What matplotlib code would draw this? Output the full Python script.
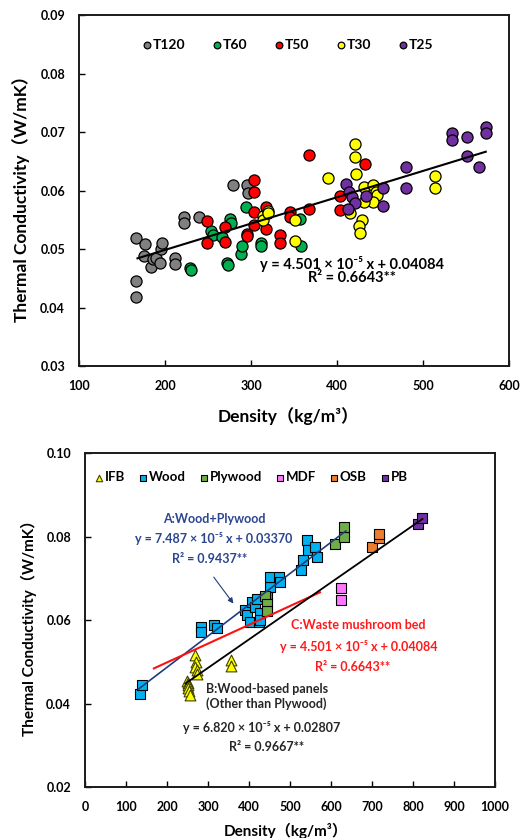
import numpy as np
import matplotlib
matplotlib.use("Agg")
import matplotlib.pyplot as plt

plt.rcParams['font.family'] = ['Lato', 'Noto Sans CJK SC', 'DejaVu Sans']
plt.rcParams['font.weight'] = 'bold'

# ---- top chart: waste mushroom bed, by group ----
t120_x = [166, 166, 166, 175, 177, 184, 186, 190, 194, 195, 197, 212, 212, 222, 222, 240, 279, 295, 296]
t120_y = [0.0519, 0.0445, 0.0418, 0.0488, 0.0508, 0.0469, 0.0483, 0.0485, 0.0476, 0.0500, 0.0510,
          0.0485, 0.0474, 0.0555, 0.0545, 0.0555, 0.0610, 0.0609, 0.0596]
t60_x = [229, 230, 253, 256, 266, 272, 273, 276, 277, 288, 289, 294, 312, 312, 357, 358]
t60_y = [0.0467, 0.0464, 0.0530, 0.0524, 0.0521, 0.0476, 0.0472, 0.0551, 0.0545, 0.0491, 0.0505,
         0.0572, 0.0510, 0.0505, 0.0552, 0.0505]
t50_x = [249, 249, 270, 270, 295, 295, 303, 303, 303, 303, 317, 317, 334, 334, 345, 345, 368, 368, 403, 403, 432]
t50_y = [0.0548, 0.0511, 0.0538, 0.0512, 0.0526, 0.0522, 0.0564, 0.0541, 0.0598, 0.0618, 0.0535,
         0.0572, 0.0524, 0.0511, 0.0564, 0.0555, 0.0568, 0.0661, 0.0591, 0.0567, 0.0645]
t30_x = [314, 314, 320, 320, 351, 351, 390, 421, 421, 422, 514, 514, 415, 429, 426, 427, 431, 442, 445, 446, 442, 431]
t30_y = [0.0556, 0.0549, 0.0565, 0.0561, 0.0550, 0.0513, 0.0622, 0.0679, 0.0658, 0.0629, 0.0625,
         0.0604, 0.0561, 0.0550, 0.0539, 0.0528, 0.0606, 0.0609, 0.0598, 0.0592, 0.0581, 0.0581]
t25_x = [411, 414, 418, 421, 413, 434, 454, 454, 480, 480, 534, 534, 551, 551, 565, 573, 573]
t25_y = [0.0611, 0.0598, 0.0589, 0.0579, 0.0568, 0.0591, 0.0604, 0.0574, 0.0641, 0.0604, 0.0699,
         0.0686, 0.0692, 0.0659, 0.0641, 0.0709, 0.0699]

groups = ["T120", "T60", "T50", "T30", "T25"]
group_colors = ["#808080", "#00B050", "#FF0000", "#FFFF00", "#7030A0"]

# fit for waste mushroom bed
c_slope, c_icpt, c_range = 4.501e-5, 0.04084, [168, 573]

# ---- bottom chart: wood and wood-based panels ----
ifb_x = [268, 270, 268, 272, 273, 248, 250, 252, 250, 253, 255, 356, 356]
ifb_y = [0.0515, 0.0500, 0.0488, 0.0480, 0.0470, 0.0455, 0.0450, 0.0444, 0.0438, 0.0430, 0.0420, 0.0505, 0.0490]
wood_x = [133, 138, 282, 282, 315, 322, 391, 395, 403, 407, 415, 420, 424, 428, 428, 444, 450, 452,
          472, 475, 527, 532, 542, 543, 562, 566]
wood_y = [0.0423, 0.0444, 0.0584, 0.0571, 0.0588, 0.0582, 0.0624, 0.0612, 0.0596, 0.0644, 0.0632,
          0.0650, 0.0596, 0.0616, 0.0600, 0.0656, 0.0680, 0.0704, 0.0704, 0.0692, 0.0720, 0.0744,
          0.0792, 0.0768, 0.0776, 0.0752]
plywood_x = [440, 444, 444, 609, 631, 632]
plywood_y = [0.0658, 0.0638, 0.0622, 0.0782, 0.0800, 0.0822]
mdf_x = [625, 625]
mdf_y = [0.0676, 0.0648]
osb_x = [701, 716, 716]
osb_y = [0.0776, 0.0797, 0.0806]
pb_x = [811, 821]
pb_y = [0.0830, 0.0845]

# fits
a_slope, a_icpt, a_range = 7.487e-5, 0.03370, [130, 636]
b_slope, b_icpt, b_range = 6.820e-5, 0.02807, [245, 823]

fig = plt.figure(figsize=(5.24, 8.38), dpi=100)
ax1 = fig.add_axes([79 / 524, 1 - 366 / 838, 430 / 524, 351 / 838])
ax2 = fig.add_axes([85 / 524, 1 - 787 / 838, 410 / 524, 334 / 838])

# top chart
for xs, ys, lab, col in zip([t120_x, t60_x, t50_x, t30_x, t25_x],
                            [t120_y, t60_y, t50_y, t30_y, t25_y], groups, group_colors):
    ax1.scatter(xs, ys, s=64, c=col, edgecolors='black', linewidths=0.9, label=lab, zorder=3)

xx = np.array(c_range)
ax1.plot(xx, c_slope * xx + c_icpt, color='black', lw=1.5, zorder=4)

ax1.set_xlim(100, 600)
ax1.set_ylim(0.03, 0.09)
ax1.set_xticks(np.arange(100, 601, 100))
ax1.set_yticks(np.arange(0.03, 0.0901, 0.01))
ax1.set_yticklabels(['%.2f' % v for v in np.arange(0.03, 0.0901, 0.01)])
ax1.set_xlabel('Density（kg/m³）', fontsize=12.5, fontweight='bold')
ax1.set_ylabel('Thermal Conductivity（W/mK）', fontsize=12.5, fontweight='bold')
ax1.xaxis.set_label_coords(0.486, -0.117)
ax1.yaxis.set_label_coords(-0.114, 0.49)

ax1.text(417, 0.04658, 'y = 4.501 × 10⁻⁵ x + 0.04084', fontsize=10.5, fontweight='bold',
         ha='center', va='baseline')
ax1.text(417, 0.04436, 'R² = 0.6643**', fontsize=10.5, fontweight='bold', ha='center', va='baseline')

leg1 = ax1.legend(loc='center left', bbox_to_anchor=(0.145, 0.9145), ncol=5, frameon=False,
                  prop={'size': 10, 'weight': 'bold'}, handlelength=0.8, handletextpad=0.0,
                  columnspacing=1.9, borderpad=0, borderaxespad=0, markerscale=0.6)

# bottom chart
ax2.scatter(ifb_x, ifb_y, s=60, marker='^', c='#FFFF00', edgecolors='#404000', linewidths=0.8, label='IFB', zorder=3)
ax2.scatter(wood_x, wood_y, s=56, marker='s', c='#00B0F0', edgecolors='black', linewidths=0.8, label='Wood', zorder=3)
ax2.scatter(plywood_x, plywood_y, s=56, marker='s', c='#70AD47', edgecolors='black', linewidths=0.8, label='Plywood', zorder=3)
ax2.scatter(mdf_x, mdf_y, s=56, marker='s', c='#FF77FF', edgecolors='black', linewidths=0.8, label='MDF', zorder=3)
ax2.scatter(osb_x, osb_y, s=56, marker='s', c='#ED7D31', edgecolors='black', linewidths=0.8, label='OSB', zorder=3)
ax2.scatter(pb_x, pb_y, s=56, marker='s', c='#7030A0', edgecolors='black', linewidths=0.8, label='PB', zorder=3)

xa = np.array(a_range)
ax2.plot(xa, a_slope * xa + a_icpt, color='#1F3D7A', lw=1.2, zorder=4)
xc = np.array(c_range)
ax2.plot(xc, c_slope * xc + c_icpt, color='#FF1010', lw=1.5, zorder=4)
xb = np.array(b_range)
ax2.plot(xb, b_slope * xb + b_icpt, color='black', lw=1.3, zorder=4)

ax2.set_xlim(0, 1000)
ax2.set_ylim(0.02, 0.10)
ax2.set_xticks(np.arange(0, 1001, 100))
ax2.set_yticks(np.arange(0.02, 0.1001, 0.02))
ax2.set_yticklabels(['%.2f' % v for v in np.arange(0.02, 0.1001, 0.02)])
ax2.set_xlabel('Density（kg/m³）', fontsize=11, fontweight='bold')
ax2.set_ylabel('Thermal Conductivity（W/mK）', fontsize=11, fontweight='bold')
ax2.xaxis.set_label_coords(0.489, -0.108)
ax2.yaxis.set_label_coords(-0.117, 0.488)

navy = '#2B4590'
ax2.text(315, 0.08323, 'A:Wood+Plywood', color=navy, fontsize=9, fontweight='bold', ha='center', va='baseline')
ax2.text(313, 0.07837, 'y = 7.487 × 10⁻⁵ x + 0.03370', color=navy, fontsize=9, fontweight='bold',
         ha='center', va='baseline')
ax2.text(303, 0.07358, 'R² = 0.9437**', color=navy, fontsize=9, fontweight='bold', ha='center', va='baseline')
ax2.annotate('', xy=(366, 0.0634), xytext=(310, 0.0708),
             arrowprops=dict(arrowstyle='-|>', color='#1F3D7A', lw=0.8, mutation_scale=8))

red = '#FF1A1A'
ax2.text(667, 0.05777, 'C:Waste mushroom bed', color=red, fontsize=9, fontweight='bold', ha='center', va='baseline')
ax2.text(667, 0.05265, 'y = 4.501 × 10⁻⁵ x + 0.04084', color=red, fontsize=9, fontweight='bold',
         ha='center', va='baseline')
ax2.text(653, 0.04786, 'R² = 0.6643**', color=red, fontsize=9, fontweight='bold', ha='center', va='baseline')

dark = '#262626'
ax2.text(443, 0.04259, 'B:Wood-based panels', color=dark, fontsize=9, fontweight='bold', ha='center', va='baseline')
ax2.text(443, 0.03885, '(Other than Plywood)', color=dark, fontsize=9, fontweight='bold', ha='center', va='baseline')
ax2.text(430, 0.03325, 'y = 6.820 × 10⁻⁵ x + 0.02807', color=dark, fontsize=9, fontweight='bold',
         ha='center', va='baseline')
ax2.text(443, 0.02862, 'R² = 0.9667**', color=dark, fontsize=9, fontweight='bold', ha='center', va='baseline')

leg2 = ax2.legend(loc='center left', bbox_to_anchor=(0.021, 0.928), ncol=6, frameon=False,
                  prop={'size': 9.5, 'weight': 'bold'}, handlelength=0.8, handletextpad=0.05,
                  columnspacing=0.96, borderpad=0, borderaxespad=0, markerscale=0.6)

for ax in (ax1, ax2):
    ax.tick_params(direction='in', length=4, width=1, labelsize=9, pad=10)
    for lab in ax.get_xticklabels() + ax.get_yticklabels():
        lab.set_fontweight('bold')
    for sp in ax.spines.values():
        sp.set_linewidth(1.4)
        sp.set_color('#1a1a1a')

fig.savefig('out.png', dpi=100)
